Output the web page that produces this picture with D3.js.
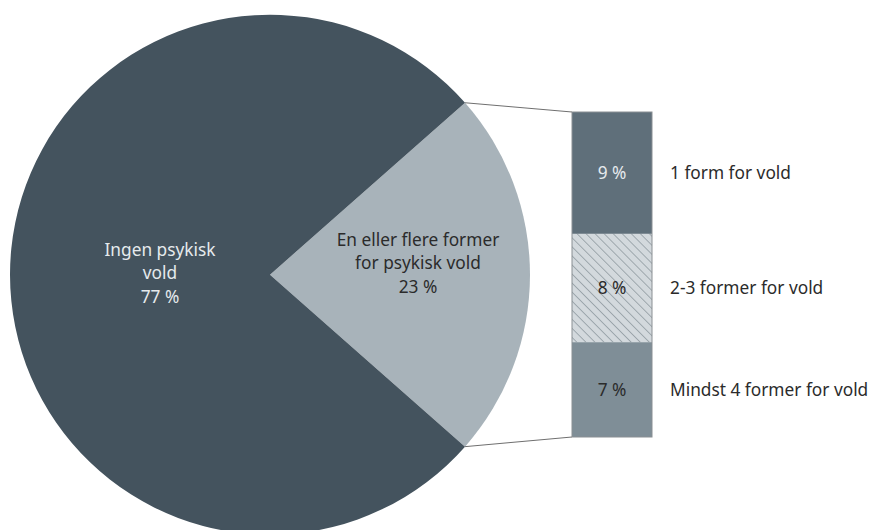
<!DOCTYPE html>
<html>
<head>
<meta charset="utf-8">
<script src="https://cdn.jsdelivr.net/npm/d3@7"></script>
<style>
  body { margin: 0; background: #fff; }
  svg { display: block; font-family: "Noto Sans", "Open Sans", sans-serif; }
</style>
</head>
<body>
<div id="chart"></div>
<script>
// pie: share of psychological violence
var pieLabels = [["En eller flere former", "for psykisk vold", "23 %"], ["Ingen psykisk", "vold", "77 %"]];
var pieValues = [23, 77];

// bar: breakdown of the 23 %
var barLabels = ["1 form for vold", "2-3 former for vold", "Mindst 4 former for vold"];
var barValues = [9, 8, 7];
var barTexts = ["9 %", "8 %", "7 %"];

var ctx = {
  w: 881,
  h: 530,
  cx: 270,
  cy: 274.7,
  r: 260,
  barX: 572,
  barW: 80,
  barTop: 112,
  barBottom: 437,
  fontSize: 17.3
};

var svg = d3.select("#chart").append("svg")
  .attr("width", ctx.w)
  .attr("height", ctx.h);

// hatch pattern for the middle segment (lines running top-left to bottom-right)
var defs = svg.append("defs");
var pat = defs.append("pattern")
  .attr("id", "hatch")
  .attr("patternUnits", "userSpaceOnUse")
  .attr("width", 6.4)
  .attr("height", 6.4)
  .attr("patternTransform", "rotate(45)");
pat.append("rect").attr("width", 6.4).attr("height", 6.4).attr("fill", "#d3d9dd");
pat.append("line")
  .attr("x1", 0).attr("y1", 0).attr("x2", 6.4).attr("y2", 0)
  .attr("stroke", "#8e989f").attr("stroke-width", 1.5);

var span = pieValues[0] / d3.sum(pieValues) * Math.PI;
var pie = d3.pie()
  .sort(null)
  .startAngle(Math.PI / 2 - span)
  .endAngle(Math.PI / 2 - span + 2 * Math.PI);

var arc = d3.arc().innerRadius(0).outerRadius(ctx.r);
var arcs = pie(pieValues);

var pieColors = ["#a8b3ba", "#44535e"];
var pieTextColors = ["#2b2b2b", "#e6eaed"];
var labelRadius = [148, 110];
var labelShift = [-11.7, -1.7];

var g = svg.append("g").attr("transform", "translate(" + ctx.cx + "," + ctx.cy + ")");

g.selectAll("path.slice")
  .data(arcs)
  .enter()
  .append("path")
  .attr("class", "slice")
  .attr("d", arc)
  .attr("fill", function (d, i) { return pieColors[i]; });

g.selectAll("text.pieLabel")
  .data(arcs)
  .enter()
  .append("text")
  .attr("class", "pieLabel")
  .attr("text-anchor", "middle")
  .attr("font-size", ctx.fontSize)
  .attr("fill", function (d, i) { return pieTextColors[i]; })
  .each(function (d, i) {
    var a = (d.startAngle + d.endAngle) / 2;
    var x = labelRadius[i] * Math.sin(a);
    var y = -labelRadius[i] * Math.cos(a) + labelShift[i];
    var t = d3.select(this);
    pieLabels[i].forEach(function (line, k) {
      t.append("tspan")
        .attr("x", x)
        .attr("y", y + (k - 1) * 23.5)
        .attr("dy", "0.35em")
        .text(line);
    });
  });

// stacked bar
var y = d3.scaleLinear()
  .domain([0, d3.sum(barValues)])
  .range([ctx.barTop, ctx.barBottom]);

var stackStart = [];
barValues.reduce(function (acc, v, i) { stackStart[i] = acc; return acc + v; }, 0);

// connector lines from the slice to the bar
var a0 = arcs[0].startAngle, a1 = arcs[0].endAngle;
svg.append("line")
  .attr("x1", ctx.cx + ctx.r * Math.sin(a0))
  .attr("y1", ctx.cy - ctx.r * Math.cos(a0))
  .attr("x2", ctx.barX)
  .attr("y2", y(0))
  .attr("stroke", "#6f6f6f").attr("stroke-width", 1);
svg.append("line")
  .attr("x1", ctx.cx + ctx.r * Math.sin(a1))
  .attr("y1", ctx.cy - ctx.r * Math.cos(a1))
  .attr("x2", ctx.barX)
  .attr("y2", y(d3.sum(barValues)))
  .attr("stroke", "#6f6f6f").attr("stroke-width", 1);

var barFills = ["#5f6f7a", "url(#hatch)", "#7f8e97"];
var barTextColors = ["#e6eaed", "#2b2b2b", "#2b2b2b"];

svg.selectAll("rect.seg")
  .data(barValues)
  .enter()
  .append("rect")
  .attr("class", "seg")
  .attr("x", ctx.barX)
  .attr("y", function (d, i) { return y(stackStart[i]); })
  .attr("width", ctx.barW)
  .attr("height", function (d, i) { return y(stackStart[i] + d) - y(stackStart[i]); })
  .attr("fill", function (d, i) { return barFills[i]; });

svg.append("rect")
  .attr("x", ctx.barX)
  .attr("y", y(0))
  .attr("width", ctx.barW)
  .attr("height", y(d3.sum(barValues)) - y(0))
  .attr("fill", "none")
  .attr("stroke", "#8a8f93")
  .attr("stroke-width", 1);

svg.selectAll("text.segText")
  .data(barValues)
  .enter()
  .append("text")
  .attr("class", "segText")
  .attr("x", ctx.barX + ctx.barW / 2)
  .attr("y", function (d, i) { return y(stackStart[i] + d / 2); })
  .attr("dy", "0.35em")
  .attr("text-anchor", "middle")
  .attr("font-size", ctx.fontSize)
  .attr("fill", function (d, i) { return barTextColors[i]; })
  .text(function (d, i) { return barTexts[i]; });

svg.selectAll("text.legend")
  .data(barValues)
  .enter()
  .append("text")
  .attr("class", "legend")
  .attr("x", 670)
  .attr("y", function (d, i) { return y(stackStart[i] + d / 2); })
  .attr("dy", "0.35em")
  .attr("font-size", ctx.fontSize)
  .attr("fill", "#2b2b2b")
  .text(function (d, i) { return barLabels[i]; });
</script>
</body>
</html>
